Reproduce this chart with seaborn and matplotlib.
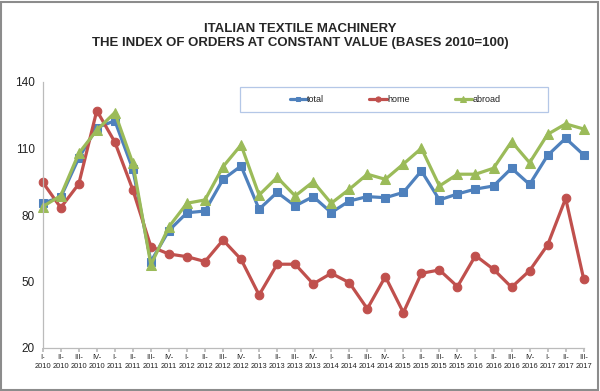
import matplotlib
matplotlib.use("Agg")
import matplotlib.pyplot as plt
import seaborn as sns
import pandas as pd
from matplotlib.patches import Rectangle

sns.set_theme(style="white")
plt.rcParams['font.family'] = ['Liberation Sans', 'DejaVu Sans']

quarters = ["I-", "II-", "III-", "IV-"]
years = [2010, 2011, 2012, 2013, 2014, 2015, 2016, 2017]
tick_labels = [f"{q}\n{y}" for y in years for q in quarters][:31]

total = [85.4, 88, 105.7, 119.4, 122.5, 100.6, 59, 73, 81, 81.8, 96.1, 102.1,
         82.6, 90.2, 84.1, 88.3, 81.1, 86.3, 88.3, 87.8, 90.2, 99.9, 86.8, 89.5,
         91.7, 93.1, 101.1, 93.8, 106.9, 114.6, 107.1]
home = [94.8, 83.3, 94, 127.1, 112.9, 91.3, 65.7, 62.4, 61.2, 59, 68.7, 60,
        43.9, 57.8, 57.8, 48.9, 53.7, 49.5, 37.7, 52.2, 36, 53.7, 55.2, 47.7,
        61.7, 55.5, 47.4, 54.9, 66.5, 87.5, 51.1]
abroad = [83.8, 88.7, 107.8, 118.3, 126.2, 103.3, 57.5, 74.7, 85.3, 86.8, 101.8, 111.6,
          89, 97, 88.6, 95, 85.3, 91.6, 98.4, 96.1, 103, 110.1, 93.1, 98.4,
          98.4, 101.1, 113.1, 103.6, 116.4, 121.1, 118.8]

x = list(range(len(tick_labels)))
df = pd.DataFrame({"x": x, "total": total, "home": home, "abroad": abroad})

W, H = 600, 391
fig = plt.figure(figsize=(6.0, 3.91), dpi=100)
ax = fig.add_axes([42.7 / W, 1 - 348 / H, 541 / W, 266 / H])

styles = [("total", "#4F81BD", "s", 6.0),
          ("home", "#C0504D", "o", 6.2),
          ("abroad", "#9BBB59", "^", 7.2)]
for name, col, mk, ms in styles:
    sns.lineplot(data=df, x="x", y=name, ax=ax, color=col, marker=mk,
                 markersize=ms, markeredgecolor=col, linewidth=2.3, label=name,
                 clip_on=False)

ax.set_xlim(0, 30)
ax.set_ylim(20, 140)
ax.set_yticks([20, 50, 80, 110, 140])
ax.set_xticks(x)
ax.set_xticklabels(tick_labels, fontsize=5.4, color="#222222", linespacing=1.3)
ax.tick_params(axis="y", labelsize=8.5, colors="#222222", length=0, pad=5.5)
ax.tick_params(axis="x", length=3, color="#BBBBBB", direction="out", pad=1.5, bottom=True)
ax.set_xlabel("")
ax.set_ylabel("")
for s in ["top", "right"]:
    ax.spines[s].set_visible(False)
for s in ["left", "bottom"]:
    ax.spines[s].set_color("#BBBBBB")
    ax.spines[s].set_linewidth(0.9)
ax.grid(False)

leg = ax.legend(loc="center", bbox_to_anchor=(395 / W, 1 - 99.5 / H),
                bbox_transform=fig.transFigure, ncol=3, fontsize=6.5,
                frameon=False, handlelength=1.9, handletextpad=0.05,
                columnspacing=5.0, markerscale=0.6)
for t in leg.get_texts():
    t.set_color("#222222")

fig.patches.append(Rectangle((240 / W, 1 - 112 / H), 308 / W, 25 / H,
                             transform=fig.transFigure, fill=False,
                             edgecolor="#B4C7E7", linewidth=0.9))

fig.text(0.5, 1 - 29 / H, "ITALIAN TEXTILE MACHINERY", ha="center", va="center",
         fontsize=9.5, fontweight="bold")
fig.text(0.5, 1 - 43 / H, "THE INDEX OF ORDERS AT CONSTANT VALUE (BASES 2010=100)",
         ha="center", va="center", fontsize=9.5, fontweight="bold")

fig.patches.append(Rectangle((0.002, 0.003), 0.995, 0.993, transform=fig.transFigure,
                             fill=False, edgecolor="#8C8C8C", linewidth=1.5))

fig.savefig("out.png", dpi=100)
